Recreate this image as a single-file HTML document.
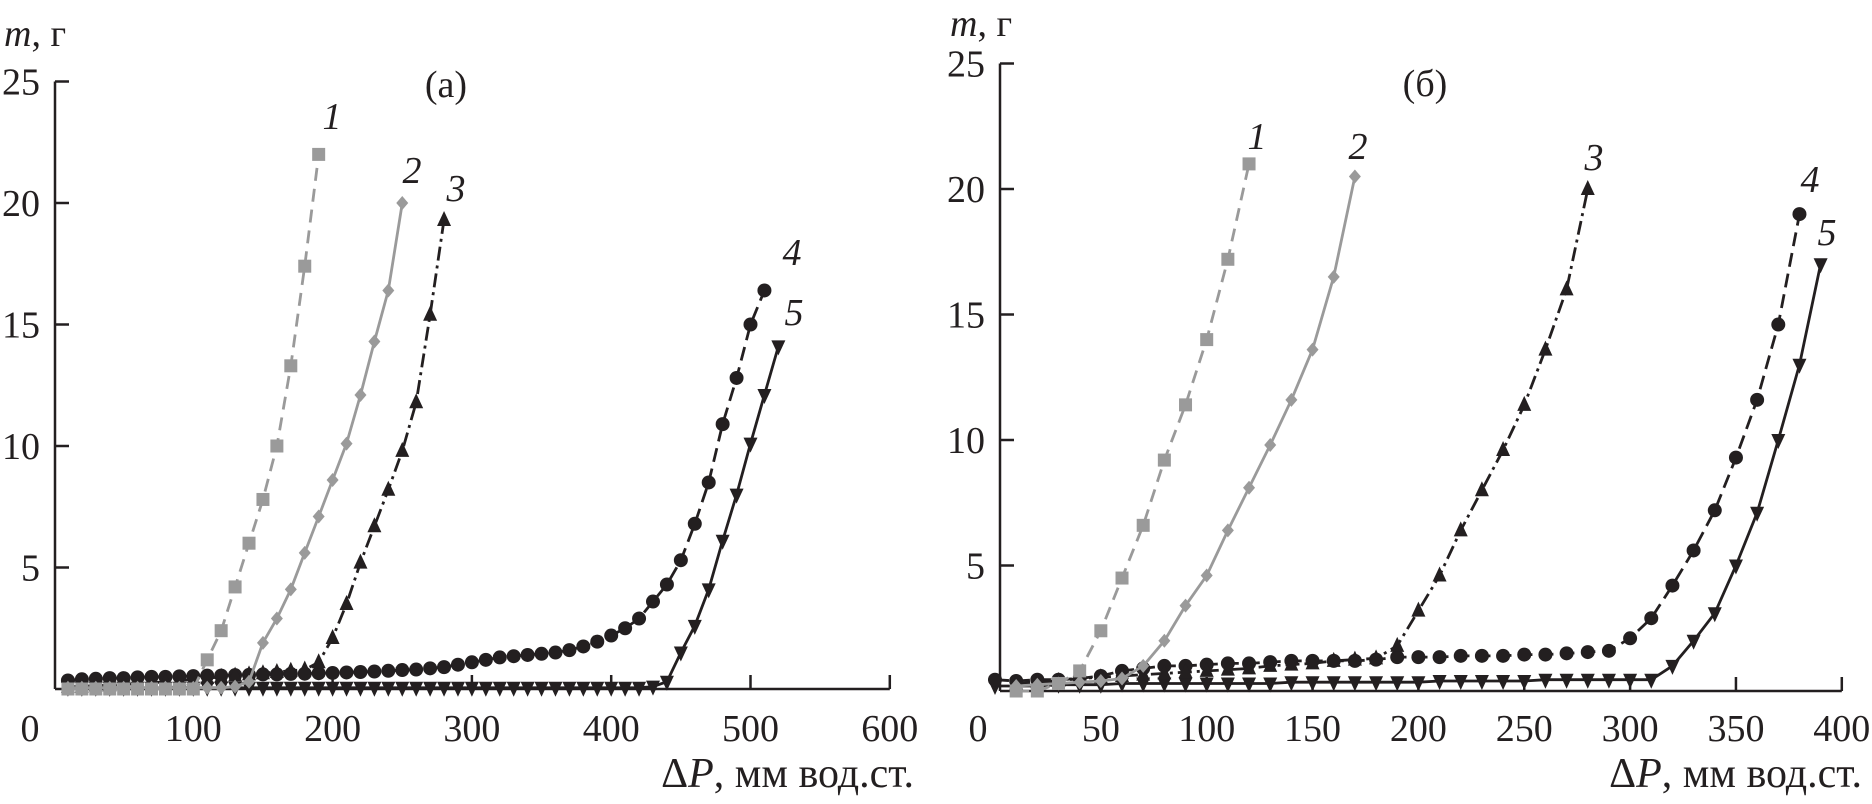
<!DOCTYPE html>
<html><head><meta charset="utf-8">
<style>
html,body{margin:0;padding:0;background:#fff;}
svg{display:block;}
svg text{font-family:"Liberation Serif","Times New Roman",serif !important;fill:#231f20;}
</style></head>
<body>
<svg id="chart" width="1872" height="804" viewBox="0 0 1872 804" xmlns="http://www.w3.org/2000/svg" font-family="Liberation Serif, serif">
<g id="pa"></g>
<g id="pb"></g>
<text x="4" y="46" font-size="38"><tspan font-style="italic">m</tspan>, г</text>
<text x="446" y="97" font-size="38" text-anchor="middle">(а)</text>
<text x="914" y="787" font-size="42" text-anchor="end">Δ<tspan font-style="italic">P</tspan>, мм вод.ст.</text>
<text x="332" y="129" font-size="38" font-style="italic" text-anchor="middle">1</text>
<text x="412" y="183" font-size="38" font-style="italic" text-anchor="middle">2</text>
<text x="456" y="201" font-size="38" font-style="italic" text-anchor="middle">3</text>
<text x="792" y="265" font-size="38" font-style="italic" text-anchor="middle">4</text>
<text x="794" y="325" font-size="38" font-style="italic" text-anchor="middle">5</text>
<text x="950" y="36" font-size="38"><tspan font-style="italic">m</tspan>, г</text>
<text x="1425" y="96" font-size="38" text-anchor="middle">(б)</text>
<text x="1862" y="787" font-size="42" text-anchor="end">Δ<tspan font-style="italic">P</tspan>, мм вод.ст.</text>
<text x="1257" y="149" font-size="38" font-style="italic" text-anchor="middle">1</text>
<text x="1358" y="159" font-size="38" font-style="italic" text-anchor="middle">2</text>
<text x="1594" y="170" font-size="38" font-style="italic" text-anchor="middle">3</text>
<text x="1810" y="192" font-size="38" font-style="italic" text-anchor="middle">4</text>
<text x="1827" y="245" font-size="38" font-style="italic" text-anchor="middle">5</text>
</svg>
<script>
// ---------- Panel (a) data ----------
const aXTicks = [0,100,200,300,400,500,600];
const aYTicks = [5,10,15,20,25];
const a1x = [10,20,30,40,50,60,70,80,90,100,110,120,130,140,150,160,170,180,190];
const a1y = [0,0,0,0,0,0,0,0,0,0,1.2,2.4,4.2,6.0,7.8,10.0,13.3,17.4,22.0];
const a2x = [10,20,30,40,50,60,70,80,90,100,110,120,130,140,150,160,170,180,190,200,210,220,230,240,250];
const a2y = [0.05,0.05,0.05,0.05,0.05,0.05,0.05,0.05,0.05,0.05,0.05,0.05,0.1,0.3,1.9,2.9,4.1,5.6,7.1,8.6,10.1,12.1,14.3,16.4,20.0];
const a3x = [10,20,30,40,50,60,70,80,90,100,110,120,130,140,150,160,170,180,190,200,210,220,230,240,250,260,270,280];
const a3y = [0.1,0.1,0.15,0.15,0.2,0.2,0.25,0.3,0.35,0.4,0.45,0.5,0.55,0.6,0.65,0.7,0.75,0.8,1.1,2.1,3.5,5.2,6.7,8.2,9.8,11.8,15.4,19.3];
const a4x = [10,20,30,40,50,60,70,80,90,100,110,120,130,140,150,160,170,180,190,200,210,220,230,240,250,260,270,280,290,300,310,320,330,340,350,360,370,380,390,400,410,420,430,440,450,460,470,480,490,500,510];
const a4y = [0.35,0.4,0.42,0.45,0.45,0.48,0.5,0.5,0.52,0.53,0.55,0.55,0.57,0.58,0.6,0.6,0.62,0.63,0.65,0.66,0.68,0.7,0.72,0.75,0.78,0.8,0.85,0.9,1.0,1.1,1.2,1.3,1.35,1.4,1.45,1.5,1.6,1.75,1.95,2.2,2.5,2.9,3.6,4.3,5.3,6.8,8.5,10.9,12.8,15.0,16.4];
const a5x = [10,20,30,40,50,60,70,80,90,100,110,120,130,140,150,160,170,180,190,200,210,220,230,240,250,260,270,280,290,300,310,320,330,340,350,360,370,380,390,400,410,420,430,440,450,460,470,480,490,500,510,520];
const a5y = [0.05,0.05,0.05,0.05,0.05,0.05,0.05,0.05,0.05,0.05,0.05,0.05,0.05,0.05,0.05,0.05,0.05,0.05,0.05,0.05,0.05,0.05,0.05,0.05,0.05,0.05,0.05,0.05,0.05,0.05,0.05,0.05,0.05,0.05,0.05,0.05,0.05,0.05,0.05,0.05,0.05,0.05,0.1,0.3,1.5,2.6,4.1,6.1,8.0,10.1,12.1,14.1];
// ---------- Panel (б) data ----------
const bXTicks = [0,50,100,150,200,250,300,350,400];
const bYTicks = [5,10,15,20,25];
const b1x = [10,20,30,40,50,60,70,80,90,100,110,120];
const b1y = [0,0,0.3,0.8,2.4,4.5,6.6,9.2,11.4,14.0,17.2,21.0];
const b2x = [10,20,30,40,50,60,70,80,90,100,110,120,130,140,150,160,170];
const b2y = [0.2,0.25,0.3,0.35,0.4,0.5,1.0,2.0,3.4,4.6,6.4,8.1,9.8,11.6,13.6,16.5,20.5];
const b3x = [10,20,30,40,50,60,70,80,90,100,110,120,130,140,150,160,170,180,190,200,210,220,230,240,250,260,270,280];
const b3y = [0.3,0.35,0.4,0.5,0.55,0.6,0.65,0.7,0.75,0.8,0.85,0.9,1.0,1.05,1.1,1.2,1.25,1.3,1.8,3.2,4.6,6.4,8.0,9.6,11.4,13.6,16.0,20.0];
const b4x = [0,10,20,30,40,50,60,70,80,90,100,110,120,130,140,150,160,170,180,190,200,210,220,230,240,250,260,270,280,290,300,310,320,330,340,350,360,370,380];
const b4y = [0.45,0.4,0.45,0.45,0.5,0.6,0.8,0.9,1.0,1.0,1.05,1.1,1.1,1.15,1.2,1.2,1.2,1.2,1.25,1.35,1.35,1.35,1.4,1.4,1.4,1.45,1.45,1.5,1.55,1.6,2.1,2.9,4.2,5.6,7.2,9.3,11.6,14.6,19.0];
const b5x = [0,10,20,30,40,50,60,70,80,90,100,110,120,130,140,150,160,170,180,190,200,210,220,230,240,250,260,270,280,290,300,310,320,330,340,350,360,370,380,390];
const b5y = [0.2,0.2,0.2,0.25,0.25,0.25,0.3,0.3,0.3,0.3,0.3,0.3,0.3,0.3,0.35,0.35,0.35,0.35,0.35,0.35,0.35,0.4,0.4,0.4,0.4,0.4,0.45,0.45,0.45,0.45,0.45,0.45,1.0,2.0,3.1,5.0,7.1,10.0,13.0,17.0];

const NS = "http://www.w3.org/2000/svg";
function mk(tag, attrs, parent){
  const e = document.createElementNS(NS, tag);
  for (const k in attrs) e.setAttribute(k, attrs[k]);
  parent.appendChild(e);
  return e;
}
const GREY = "#9a9a9a", BLACK = "#231f20";

function marker(g, kind, cx, cy, color){
  let e;
  if (kind === "square") e = mk("rect", {x:cx-6.5, y:cy-6.5, width:13, height:13, fill:color}, g);
  else if (kind === "diamond") e = mk("polygon", {points:`${cx},${cy-7} ${cx+6},${cy} ${cx},${cy+7} ${cx-6},${cy}`, fill:color}, g);
  else if (kind === "tri") e = mk("polygon", {points:`${cx},${cy-9} ${cx+7},${cy+6} ${cx-7},${cy+6}`, fill:color}, g);
  else if (kind === "tridown") e = mk("polygon", {points:`${cx},${cy+9} ${cx+7},${cy-6} ${cx-7},${cy-6}`, fill:color}, g);
  else e = mk("circle", {cx:cx, cy:cy, r:7, fill:color}, g);
  
  
}

function panel(g, cfg){
  const X = v => cfg.x0 + v*cfg.kx;
  const Y = v => cfg.y0 - v*cfg.ky;
  const ya = mk("line", {x1:cfg.axX, y1:Y(25), x2:cfg.axX, y2:cfg.y0, stroke:BLACK, "stroke-width":2.5}, g);
  
  
  const xa = mk("line", {x1:cfg.axX, y1:cfg.y0, x2:X(cfg.xMax), y2:cfg.y0, stroke:BLACK, "stroke-width":2.5}, g);
  
  
  cfg.yTicks.forEach(t => {
    const l = mk("line", {x1:cfg.axX, y1:Y(t), x2:cfg.axX+14, y2:Y(t), stroke:BLACK, "stroke-width":2.5}, g);
    
    
    const tx = mk("text", {x:cfg.axX-15, y:Y(t)+13, "font-size":38, "text-anchor":"end"}, g);
    tx.textContent = t;
    
    
  });
  cfg.xTicks.forEach(t => {
    if (t > 0) {
      const l = mk("line", {x1:X(t), y1:cfg.y0, x2:X(t), y2:cfg.y0-14, stroke:BLACK, "stroke-width":2.5}, g);
      
      
    }
    const tx = mk("text", {x: t===0 ? cfg.zeroLabelX : X(t), y:741, "font-size":38, "text-anchor":"middle"}, g);
    tx.textContent = t;
    
    
  });
  cfg.series.forEach((s, i) => {
    const sg = mk("g", {}, g);
    
    
    const pts = s.x.map((v, j) => X(v).toFixed(1) + "," + Y(s.y[j]).toFixed(1)).join(" ");
    const pl = mk("polyline", {points:pts, fill:"none", stroke:s.color, "stroke-width":2.8, "stroke-dasharray":s.dash || "none"}, sg);
    
    
    s.x.forEach((v, j) => marker(sg, s.m, X(v), Y(s.y[j]), s.color));
  });
}

panel(document.getElementById("pa"), {
  x0:54, kx:1.393, y0:689, ky:24.3, axX:55, xMax:600, zeroLabelX:30,
  xTicks:aXTicks, yTicks:aYTicks,
  series:[
    {x:a5x, y:a5y, color:BLACK, m:"tridown"},
    {x:a4x, y:a4y, color:BLACK, m:"circle", dash:"14 7"},
    {x:a3x, y:a3y, color:BLACK, m:"tri", dash:"14 5 3 5"},
    {x:a2x, y:a2y, color:GREY, m:"diamond"},
    {x:a1x, y:a1y, color:GREY, m:"square", dash:"13 8"}
  ]
});
panel(document.getElementById("pb"), {
  x0:995, kx:2.117, y0:691, ky:25.1, axX:1000, xMax:400, zeroLabelX:978,
  xTicks:bXTicks, yTicks:bYTicks,
  series:[
    {x:b5x, y:b5y, color:BLACK, m:"tridown"},
    {x:b4x, y:b4y, color:BLACK, m:"circle", dash:"14 7"},
    {x:b3x, y:b3y, color:BLACK, m:"tri", dash:"14 5 3 5"},
    {x:b2x, y:b2y, color:GREY, m:"diamond"},
    {x:b1x, y:b1y, color:GREY, m:"square", dash:"13 8"}
  ]
});
</script>
</body></html>
